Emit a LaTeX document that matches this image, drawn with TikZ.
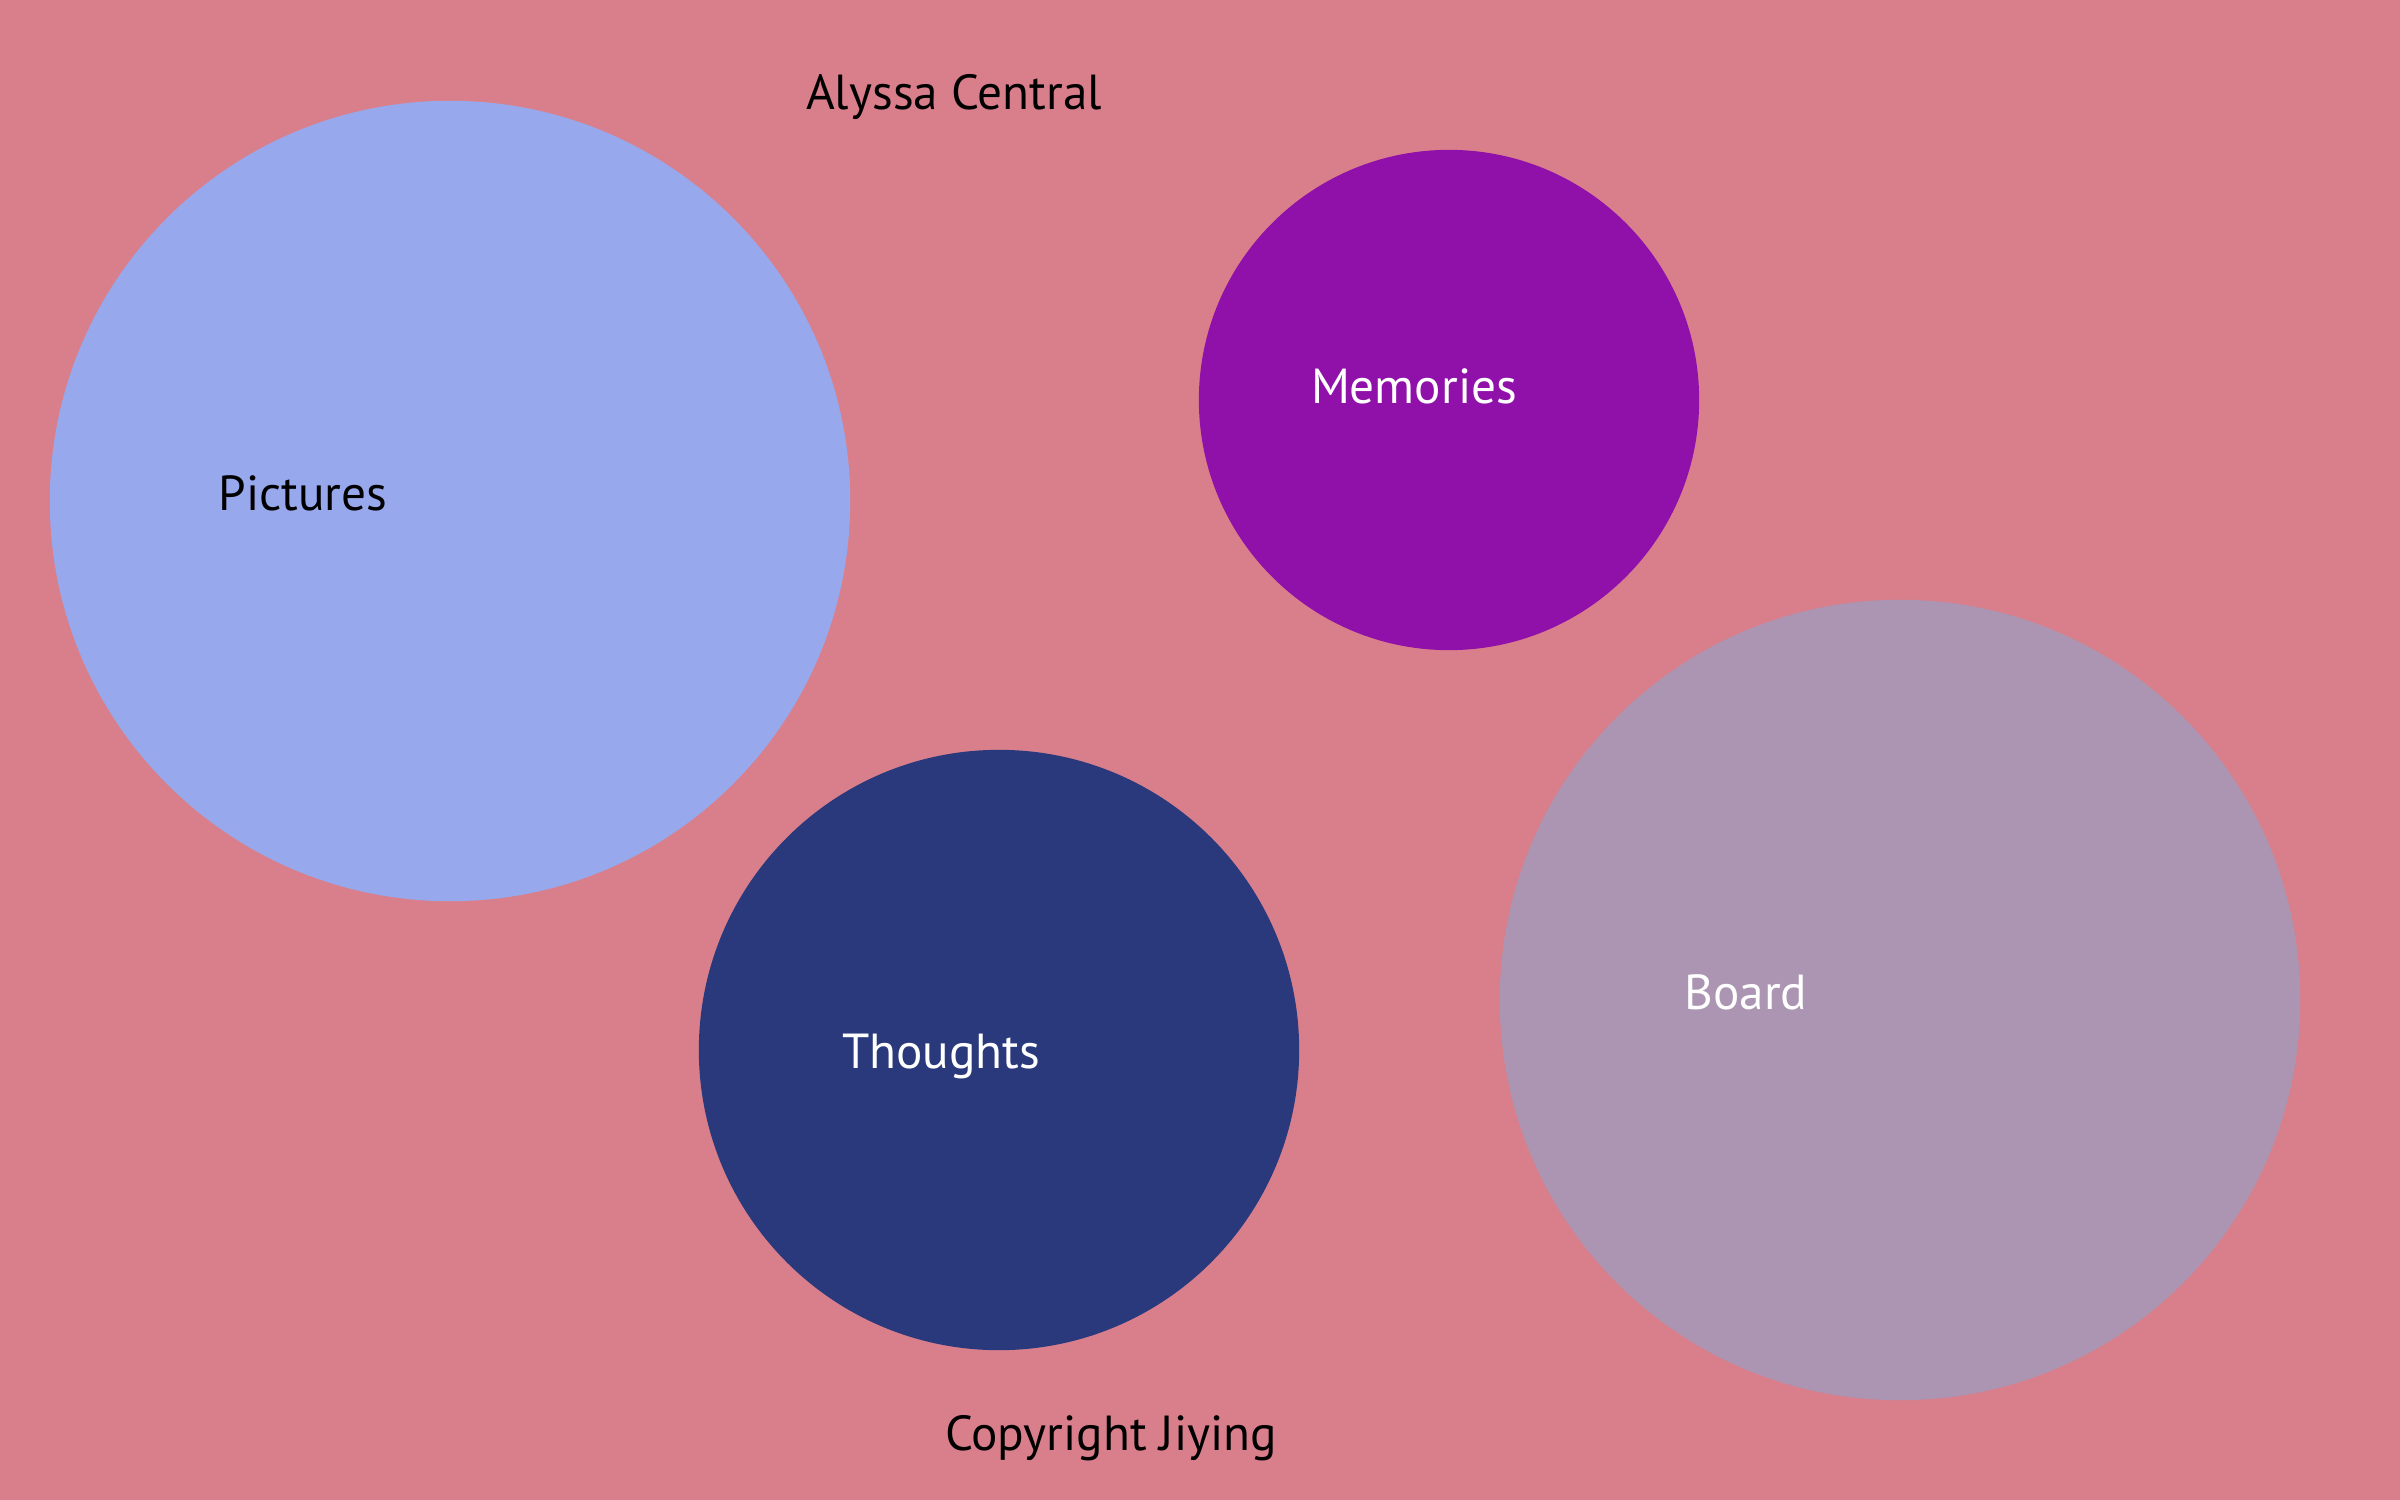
\documentclass[tikz,border=0pt]{standalone}
\usepackage{fontspec}
\setmainfont{PT Sans}
\definecolor{bgpink}{RGB}{217,127,140}
\definecolor{picblue}{RGB}{151,168,236}
\definecolor{mempurple}{RGB}{144,16,170}
\definecolor{thoughtnavy}{RGB}{41,57,123}
\definecolor{boardmauve}{RGB}{171,149,178}
\begin{document}
\begin{tikzpicture}[x=0.01cm,y=-0.01cm,
  bubble/.style={circle,inner sep=0pt,draw=none},
  lbl/.style={anchor=base,font=\fontsize{14}{17}\selectfont,inner sep=0pt}]
\fill[bgpink] (0,0) rectangle (2400,1500);
\useasboundingbox (0,0) rectangle (2400,1500);
\node[bubble,fill=picblue,minimum size=8cm] (pictures) at (450,501) {};
\node[bubble,fill=mempurple,minimum size=5cm] (memories) at (1449,400) {};
\node[bubble,fill=thoughtnavy,minimum size=6cm] (thoughts) at (999,1050) {};
\node[bubble,fill=boardmauve,minimum size=8cm] (board) at (1900,1000) {};
\node[lbl,text=black] (title) at (954,110) {Alyssa Central};
\node[lbl,text=black] (pictxt) at (303,510) {Pictures};
\node[lbl,text=white] (memtxt) at (1414,403) {Memories};
\node[lbl,text=white] (thtxt) at (941,1068) {Thoughts};
\node[lbl,text=white] (bdtxt) at (1746,1009) {Board};
\node[lbl,text=black] (copy) at (1111,1450) {Copyright Jiying};
\end{tikzpicture}
\end{document}
